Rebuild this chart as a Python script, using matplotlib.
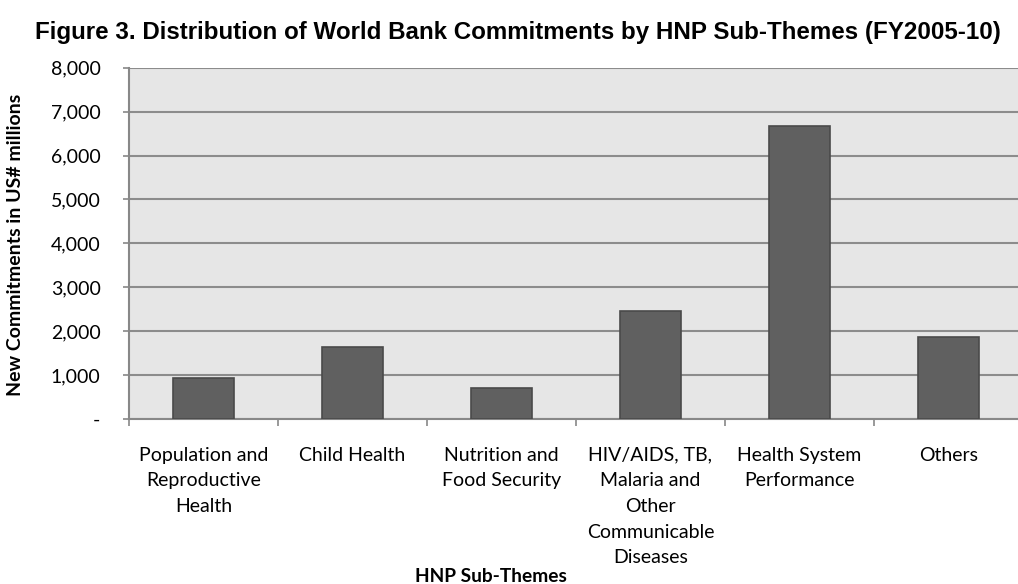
import numpy as np
import matplotlib.pyplot as plt
from matplotlib.ticker import FuncFormatter, FixedLocator

# Data
categories = ['Population and\nReproductive\nHealth', 'Child Health', 'Nutrition and\nFood Security',
              'HIV/AIDS, TB,\nMalaria and\nOther\nCommunicable\nDiseases',
              'Health System\nPerformance', 'Others']
commitments = [927, 1647, 699, 2467, 6674, 1875]
y_ticks = [0, 1000, 2000, 3000, 4000, 5000, 6000, 7000, 8000]

plt.rcParams['font.family'] = ['Lato', 'DejaVu Sans']

fig = plt.figure(figsize=(10.18, 5.84), dpi=100)
W, H = 1018, 584
ax = fig.add_axes([129 / W, (H - 419) / H, (1023 - 129) / W, (419 - 67.7) / H])
ax.set_facecolor('#e6e6e6')

x = np.arange(len(categories))
ax.bar(x, commitments, width=0.405, color='#606060', edgecolor='#4a4a4a', linewidth=1.2, zorder=3)

ax.set_xlim(-0.5, len(categories) - 0.5)
ax.set_ylim(0, 8000)
ax.set_yticks(y_ticks)
ax.yaxis.set_major_formatter(FuncFormatter(lambda v, p: '-' if v == 0 else f'{int(v):,}'))
ax.grid(axis='y', color='#8c8c8c', linewidth=1.5, zorder=1)

# category boundary ticks on x-axis, labels centred
ax.xaxis.set_major_locator(FixedLocator(np.arange(-0.5, len(categories), 1.0)))
ax.xaxis.set_major_formatter(FuncFormatter(lambda v, p: ''))
ax.xaxis.set_minor_locator(FixedLocator(x))
ax.set_xticklabels(categories, minor=True, fontsize=14, linespacing=1.62, va='top')
ax.tick_params(axis='x', which='minor', length=0, pad=20)
ax.tick_params(axis='x', which='major', length=5, color='#888888', width=1.2)
ax.tick_params(axis='y', length=4.5, color='#888888', width=1.2, labelsize=14, pad=16)

for s in ['top', 'right']:
    ax.spines[s].set_visible(False)
for s in ['left', 'bottom']:
    ax.spines[s].set_color('#888888')
    ax.spines[s].set_linewidth(1.5)

fig.text(518 / W, 1 - 32 / H, 'Figure 3. Distribution of World Bank Commitments by HNP Sub-Themes (FY2005-10)',
         ha='center', va='center', fontsize=17.4, fontweight='bold',
         family=['Liberation Sans', 'DejaVu Sans'])
fig.text(16 / W, 1 - 245 / H, 'New Commitments in US# millions', rotation=90,
         ha='center', va='center', fontsize=14, fontweight='bold')
fig.text(491 / W, 1 - 576 / H, 'HNP Sub-Themes', ha='center', va='center',
         fontsize=13.8, fontweight='bold')

fig.savefig('out.png', dpi=100)
